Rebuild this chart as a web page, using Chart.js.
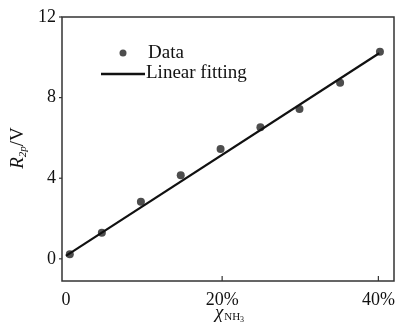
<!DOCTYPE html>
<html>
<head>
<meta charset="utf-8">
<script src="https://cdn.jsdelivr.net/npm/chart.js@4"></script>
<style>
html,body{margin:0;padding:0;background:#fff;}
#wrap{width:400px;height:324px;}
</style>
</head>
<body>
<div id="wrap"><canvas id="c"></canvas></div>
<script>
const dataX = [0.5, 4.6, 9.6, 14.7, 19.8, 24.9, 29.9, 35.1, 40.2];
const dataY = [0.23, 1.3, 2.83, 4.15, 5.45, 6.53, 7.44, 8.74, 10.28];
const fitX = [0, 40.1];
const fitY = [0.15, 10.2];
const xTicks = [0, 20, 40];
const yTicks = [0, 4, 8, 12];
const seriesLabels = ['Data', 'Linear fitting'];

const SERIF = "'Liberation Serif','Times New Roman',serif";

const decor = {
  id: 'decor',
  afterDraw(chart) {
    const ctx = chart.ctx;
    const a = chart.chartArea;
    const xs = chart.scales.x, ys = chart.scales.y;
    ctx.save();
    // frame
    ctx.strokeStyle = '#333';
    ctx.lineWidth = 1.5;
    ctx.strokeRect(a.left, a.top, a.right - a.left, a.bottom - a.top);
    // y ticks outward
    ctx.lineWidth = 1.2;
    yTicks.forEach(v => {
      const y = ys.getPixelForValue(v);
      ctx.beginPath(); ctx.moveTo(a.left - 3, y); ctx.lineTo(a.left, y); ctx.stroke();
    });
    // x ticks inward
    xTicks.forEach(v => {
      if (v === 0) return;
      const x = xs.getPixelForValue(v);
      ctx.beginPath(); ctx.moveTo(x, a.bottom); ctx.lineTo(x, a.bottom - 5); ctx.stroke();
    });
    // legend
    const ds = chart.data.datasets;
    ctx.fillStyle = ds[0].backgroundColor;
    ctx.beginPath(); ctx.arc(123, 53, 3.5, 0, Math.PI * 2); ctx.fill();
    ctx.strokeStyle = ds[1].borderColor;
    ctx.lineWidth = 2.5;
    ctx.beginPath(); ctx.moveTo(101, 74); ctx.lineTo(145, 74); ctx.stroke();
    ctx.fillStyle = '#111';
    ctx.font = '19px ' + SERIF;
    ctx.textBaseline = 'middle';
    ctx.textAlign = 'left';
    ctx.fillText(ds[0].label, 148, 53);
    ctx.fillText(ds[1].label, 146, 73);

    // y title: R_2p/V rotated
    ctx.save();
    ctx.translate(17, 148);
    ctx.rotate(-Math.PI / 2);
    ctx.textBaseline = 'alphabetic';
    const fR = 'italic 19px ' + SERIF, fS = 'italic 11px ' + SERIF, fV = '19px ' + SERIF;
    ctx.font = fR; const wR = ctx.measureText('R').width;
    ctx.font = fS; const wS = ctx.measureText('2p').width;
    ctx.font = fV; const wV = ctx.measureText('/V').width;
    let x0 = -(wR + wS + wV) / 2;
    ctx.font = fR; ctx.fillText('R', x0, 6); x0 += wR;
    ctx.font = fS; ctx.fillText('2p', x0, 9); x0 += wS;
    ctx.font = fV; ctx.fillText('/V', x0, 6);
    ctx.restore();

    // x title: chi_NH3
    ctx.save();
    ctx.textBaseline = 'alphabetic';
    const fC = 'italic 19px ' + SERIF, fN = '11px ' + SERIF, f3 = '8px ' + SERIF;
    ctx.font = fC; const wC = ctx.measureText('χ').width;
    ctx.font = fN; const wN = ctx.measureText('NH').width;
    ctx.font = f3; const w3 = ctx.measureText('3').width;
    let xx = 229 - (wC + wN + w3) / 2;
    ctx.font = fC; ctx.fillText('χ', xx, 318); xx += wC + 1;
    ctx.font = fN; ctx.fillText('NH', xx, 320); xx += wN;
    ctx.font = f3; ctx.fillText('3', xx, 322);
    ctx.restore();
    ctx.restore();
  }
};

new Chart(document.getElementById('c'), {
  type: 'scatter',
  data: {
    datasets: [
      {
        label: seriesLabels[0],
        data: dataX.map((x, i) => ({x: x, y: dataY[i]})),
        backgroundColor: '#4d4d4d',
        borderWidth: 0,
        pointRadius: 4,
        order: 1
      },
      {
        label: seriesLabels[1],
        data: fitX.map((x, i) => ({x: x, y: fitY[i]})),
        type: 'line',
        showLine: true,
        borderColor: '#111',
        borderWidth: 2.2,
        pointRadius: 0,
        fill: false,
        order: 0
      }
    ]
  },
  options: {
    responsive: true,
    maintainAspectRatio: false,
    animation: false,
    devicePixelRatio: 1,
    layout: {padding: {left: 0, right: 6, top: 17, bottom: 0}},
    plugins: {legend: {display: false}, tooltip: {enabled: false}},
    scales: {
      x: {
        type: 'linear',
        min: -0.5, max: 42,
        afterBuildTicks: s => { s.ticks = xTicks.map(v => ({value: v})); },
        afterFit: s => { s.height = 43; s.paddingLeft = 0; s.paddingRight = 0; },
        grid: {display: false, drawTicks: false},
        border: {display: false},
        ticks: {
          padding: 8,
          color: '#111',
          font: {family: SERIF, size: 18},
          maxRotation: 0,
          callback: v => v === 0 ? '0' : v + '%'
        }
      },
      y: {
        type: 'linear',
        min: -1.1, max: 12,
        afterBuildTicks: s => { s.ticks = yTicks.map(v => ({value: v})); },
        afterFit: s => { s.width = 62; s.paddingTop = 0; s.paddingBottom = 0; },
        grid: {display: false, drawTicks: false},
        border: {display: false},
        ticks: {
          padding: 6,
          color: '#111',
          font: {family: SERIF, size: 18}
        }
      }
    }
  },
  plugins: [decor]
});
</script>
</body>
</html>
